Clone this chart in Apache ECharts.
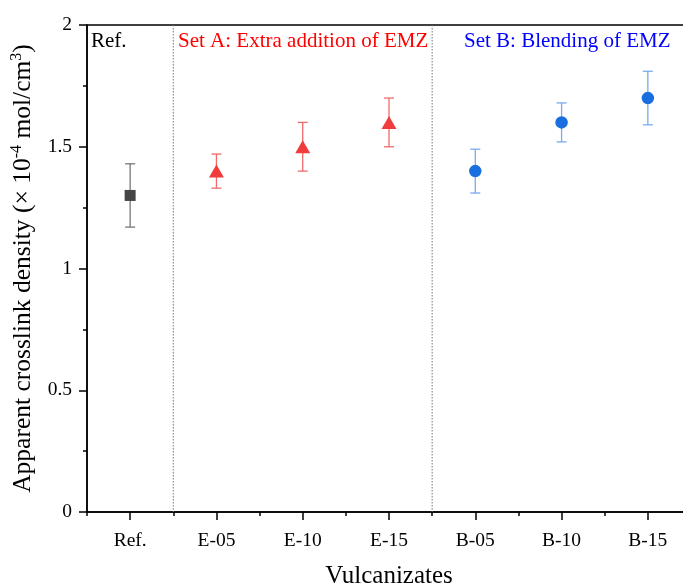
<!DOCTYPE html>
<html>
<head>
<meta charset="utf-8">
<script src="https://cdn.jsdelivr.net/npm/echarts@6/dist/echarts.min.js"></script>
<style>
  html, body { margin: 0; padding: 0; background: #fff; }
  #chart { width: 683px; height: 586px; }
</style>
</head>
<body>
<div id="chart"></div>
<script>
// categories and values
const categories = ['Ref.', 'E-05', 'E-10', 'E-15', 'B-05', 'B-10', 'B-15'];
const refValues = [[0, 1.30, 0.13]];
const setAValues = [[1, 1.40, 0.07], [2, 1.50, 0.10], [3, 1.60, 0.10]];
const setBValues = [[4, 1.40, 0.09], [5, 1.60, 0.08], [6, 1.70, 0.11]];
const separators = [[0, 1], [3, 4]]; // dotted lines between these categories
const yTicks = [0, 0.5, 1, 1.5, 2];

const font = '"Liberation Serif", "Times New Roman", serif';

const chart = echarts.init(document.getElementById('chart'), null, { renderer: 'canvas' });

// error bar drawn through the axes
function errorBar(color) {
    return function (params, api) {
        const x = api.value(0);
        const top = api.coord([x, api.value(1) + api.value(2)]);
        const bot = api.coord([x, api.value(1) - api.value(2)]);
        const hw = 5;
        const style = { stroke: color, lineWidth: 1.3 };
        return {
            type: 'group',
            children: [
                { type: 'line', shape: { x1: top[0], y1: top[1], x2: bot[0], y2: bot[1] }, style: style },
                { type: 'line', shape: { x1: top[0] - hw, y1: top[1], x2: top[0] + hw, y2: top[1] }, style: style },
                { type: 'line', shape: { x1: bot[0] - hw, y1: bot[1], x2: bot[0] + hw, y2: bot[1] }, style: style }
            ]
        };
    };
}

function errSeries(data, color) {
    return {
        type: 'custom',
        data: data,
        renderItem: errorBar(color),
        encode: { x: 0, y: 1 },
        silent: true,
        z: 2
    };
}

const option = {
    animation: false,
    grid: {
        left: 87, top: 25, bottom: 74, right: -8,
        outerBoundsMode: 'none',
        containLabel: false,
        show: true, borderColor: '#000', borderWidth: 1.5, backgroundColor: 'transparent'
    },
    xAxis: [
        {
            type: 'category',
            data: categories,
            name: 'Vulcanizates',
            nameLocation: 'middle',
            nameGap: 52,
            nameTextStyle: { fontFamily: font, fontSize: 25, color: '#000' },
            axisLine: { lineStyle: { color: '#000', width: 1.5 } },
            axisTick: { show: true, alignWithLabel: true, length: 8, lineStyle: { color: '#000', width: 1.5 } },
            axisLabel: { fontFamily: font, fontSize: 19.5, color: '#000', margin: 19 },
            splitLine: { show: false }
        },
        {
            type: 'category',
            data: categories,
            position: 'bottom',
            axisLine: { show: false },
            axisTick: { show: true, length: 4, lineStyle: { color: '#000', width: 1.5 } },
            axisLabel: { show: false },
            splitLine: { show: false }
        }
    ],
    yAxis: {
        type: 'value',
        min: yTicks[0],
        max: yTicks[yTicks.length - 1],
        interval: 0.5,
        name: '{a|Apparent crosslink density (× 10}{s|-4}{a| mol/cm}{s|3}{a|)}',
        nameLocation: 'middle',
        nameGap: 41,
        nameTextStyle: {
            color: '#000',
            rich: {
                a: { fontFamily: font, fontSize: 25.5, color: '#000', lineHeight: 30 },
                s: { fontFamily: font, fontSize: 16, color: '#000', verticalAlign: 'top', lineHeight: 30, padding: [0, 0, 12, 0] }
            }
        },
        axisLine: { show: true, lineStyle: { color: '#000', width: 1.5 } },
        axisTick: { show: true, length: 8, lineStyle: { color: '#000', width: 1.5 } },
        minorTick: { show: true, splitNumber: 2, length: 4, lineStyle: { color: '#000', width: 1.5 } },
        axisLabel: { fontFamily: font, fontSize: 19.5, color: '#000', margin: 15 },
        splitLine: { show: false }
    },
    graphic: [
        { type: 'text', left: 91, top: 31, style: { text: 'Ref.', font: '21px ' + font, fill: '#000' } },
        { type: 'text', left: 178, top: 31, style: { text: 'Set A: Extra addition of EMZ', font: '21px ' + font, fill: '#ff0000' } },
        { type: 'text', left: 464, top: 31, style: { text: 'Set B: Blending of EMZ', font: '21px ' + font, fill: '#0000ff' } }
    ],
    series: [
        {
            type: 'custom',
            data: separators,
            silent: true,
            renderItem: function (params, api) {
                const a = api.coord([api.value(0), 0]);
                const b = api.coord([api.value(1), 0]);
                const x = (a[0] + b[0]) / 2;
                const cs = params.coordSys;
                return {
                    type: 'line',
                    shape: { x1: x, y1: cs.y, x2: x, y2: cs.y + cs.height },
                    style: { stroke: '#777', lineWidth: 1, lineDash: [1.5, 1.5] }
                };
            },
            z: 1
        },
        errSeries(refValues, '#777777'),
        errSeries(setAValues, '#f06a6a'),
        errSeries(setBValues, '#7aaaf0'),
        {
            type: 'scatter',
            data: refValues,
            symbol: 'rect',
            symbolSize: 11,
            itemStyle: { color: '#454545', opacity: 1 },
            z: 3
        },
        {
            type: 'scatter',
            data: setAValues,
            symbol: 'triangle',
            symbolSize: [15, 13],
            itemStyle: { color: '#f03c3c', opacity: 1 },
            z: 3
        },
        {
            type: 'scatter',
            data: setBValues,
            symbol: 'circle',
            symbolSize: 12.5,
            itemStyle: { color: '#1a6fe0', opacity: 1 },
            z: 3
        }
    ]
};

chart.setOption(option);
</script>
</body>
</html>
